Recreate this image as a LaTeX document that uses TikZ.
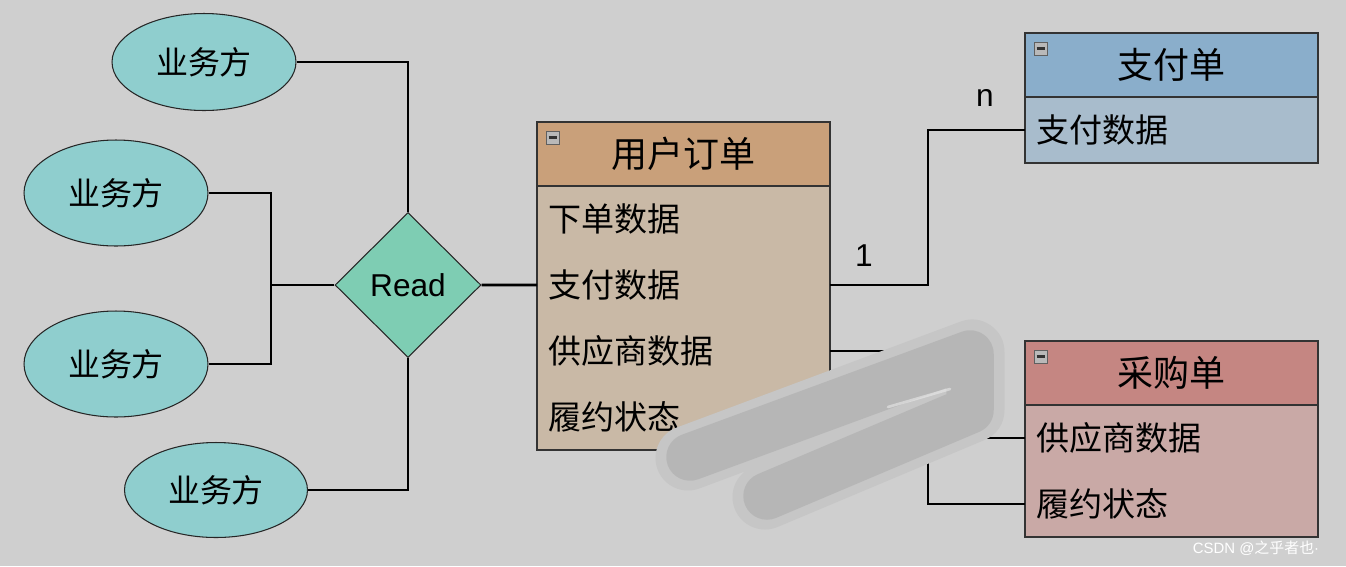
\documentclass[tikz,border=0pt]{standalone}
\usepackage{fontspec}
\setmainfont{Liberation Sans}
\newfontfamily\cjk{Noto Sans CJK SC}
\usetikzlibrary{shapes.geometric,positioning,backgrounds}

\definecolor{bgGray}{HTML}{CFCFCF}
\definecolor{partyFill}{HTML}{8FCECE}
\definecolor{readFill}{HTML}{7ECDB3}
\definecolor{orderHead}{HTML}{C9A07A}
\definecolor{orderBody}{HTML}{C9B9A6}
\definecolor{payHead}{HTML}{8AAECB}
\definecolor{payBody}{HTML}{A8BCCC}
\definecolor{buyHead}{HTML}{C58682}
\definecolor{buyBody}{HTML}{C9A9A6}
\definecolor{smudgeGray}{HTML}{B4B4B4}
\definecolor{smudgeEdge}{HTML}{C6C6C6}

\tikzset{
    party/.style={ellipse,draw=black!85,line width=0.6pt,fill=partyFill,inner sep=0pt,
        font=\cjk\fontsize{18.2}{20}\selectfont},
    relation/.style={diamond,draw=black!85,line width=0.6pt,fill=readFill,inner sep=0pt,
        minimum width=2.92cm,minimum height=2.9cm,font=\fontsize{18}{20}\selectfont},
    tableHead/.style={rectangle,draw=black!80,line width=0.8pt,fill=#1,minimum width=5.86cm,
        minimum height=1.28cm,inner sep=0pt,outer sep=0pt,font=\cjk\fontsize{20.5}{22}\selectfont},
    tableRow/.style={rectangle,minimum width=5.86cm,text width=5.42cm,align=left,outer sep=0pt,
        inner xsep=0.22cm,inner ysep=0pt,minimum height=1.32cm,font=\cjk\fontsize{18.8}{20}\selectfont},
    tableBox/.style={draw=black!80,line width=0.8pt,fill=#1},
    link/.style={line width=1.6pt,black},
    card/.style={font=\fontsize{18}{20}\selectfont}
}

\newcommand{\minusIcon}[1]{%
    \draw[fill=gray!55,draw=gray!75!black,line width=0.5pt] ([shift={(9,9)}]#1.north west) rectangle ++(13,13);
    \draw[line width=1.3pt,black!80] ([shift={(11.5,15.5)}]#1.north west) -- ++(8,0);
}

\begin{document}
\begin{tikzpicture}[x=0.02cm,y=-0.02cm]

\begin{scope}[on background layer]
\fill[bgGray] (0,0) rectangle (1346,566);
\end{scope}
\useasboundingbox (0,0) rectangle (1346,566);

% the four parties
\foreach \n/\x/\y/\w/\h in
{1/204/62/3.68cm/1.94cm,
    2/116/193/3.68cm/2.12cm,
    3/116/364/3.68cm/2.12cm,
    4/216/490/3.66cm/1.9cm}
{
    \node[party,minimum width=\w,minimum height=\h] (nParty\n) at (\x,\y) {业务方};
};

\node[relation] (nRead) at (408,285) {Read};
\coordinate (cJoin) at (271,285);

% user order
\node[tableHead=orderHead,anchor=north west] (nOrderHead) at (537,122) {用户订单};
\node[tableRow,below=0pt of nOrderHead] (nOrderPlace) {下单数据};
\node[tableRow,below=0pt of nOrderPlace] (nOrderPay) {支付数据};
\node[tableRow,below=0pt of nOrderPay] (nOrderSupplier) {供应商数据};
\node[tableRow,below=0pt of nOrderSupplier] (nOrderState) {履约状态};
\begin{scope}[on background layer]
\draw[tableBox=orderBody] (nOrderHead.south west) rectangle (nOrderState.south east);
\end{scope}
\minusIcon{nOrderHead}

% payment
\node[tableHead=payHead,anchor=north west] (nPayHead) at (1025,33) {支付单};
\node[tableRow,below=0pt of nPayHead] (nPayData) {支付数据};
\begin{scope}[on background layer]
\draw[tableBox=payBody] (nPayHead.south west) rectangle (nPayData.south east);
\end{scope}
\minusIcon{nPayHead}

% purchase
\node[tableHead=buyHead,anchor=north west] (nBuyHead) at (1025,341) {采购单};
\node[tableRow,below=0pt of nBuyHead] (nBuySupplier) {供应商数据};
\node[tableRow,below=0pt of nBuySupplier] (nBuyState) {履约状态};
\begin{scope}[on background layer]
\draw[tableBox=buyBody] (nBuyHead.south west) rectangle (nBuyState.south east);
\end{scope}
\minusIcon{nBuyHead}

% connectors
\draw[link] (nParty1.east) -| (nRead.north);
\draw[link] (nParty4.east) -| (nRead.south);
\draw[link] (nParty2.east) -| (cJoin);
\draw[link] (nParty3.east) -| (cJoin);
\draw[link] (cJoin) -- (nRead.west);
\draw[link] (nRead.east) -- (nOrderPay.west);
\draw[link] (nOrderPay.east) -- ++(98,0) |- (nPayData.west);
\draw[link] (nOrderSupplier.east) -- ++(72,0) |- (nBuySupplier.west);
\draw[link] (nOrderState.east) -- ++(98,0) |- (nBuyState.west);

\node[card] (nOne) at (864,256) {1};
\node[card] (nMany) at (985,98) {n};

% smudge
\draw[smudgeEdge,line width=1.3cm,line cap=round,line join=round]
    (688,458) -- (972,352) -- (972,410) -- (765,497);
\draw[smudgeGray,opacity=0.85,line width=0.95cm,line cap=round,line join=round]
    (690,457) -- (970,354) -- (970,410) -- (767,496);
\draw[white!70!smudgeGray,opacity=0.6,line width=1.5pt,line cap=round] (888,407) -- (950,389);

\node[white,font=\fontsize{8.5}{10}\selectfont] (nMark) at (1256,548) {CSDN @{\cjk 之乎者也}·};

\end{tikzpicture}
\end{document}
